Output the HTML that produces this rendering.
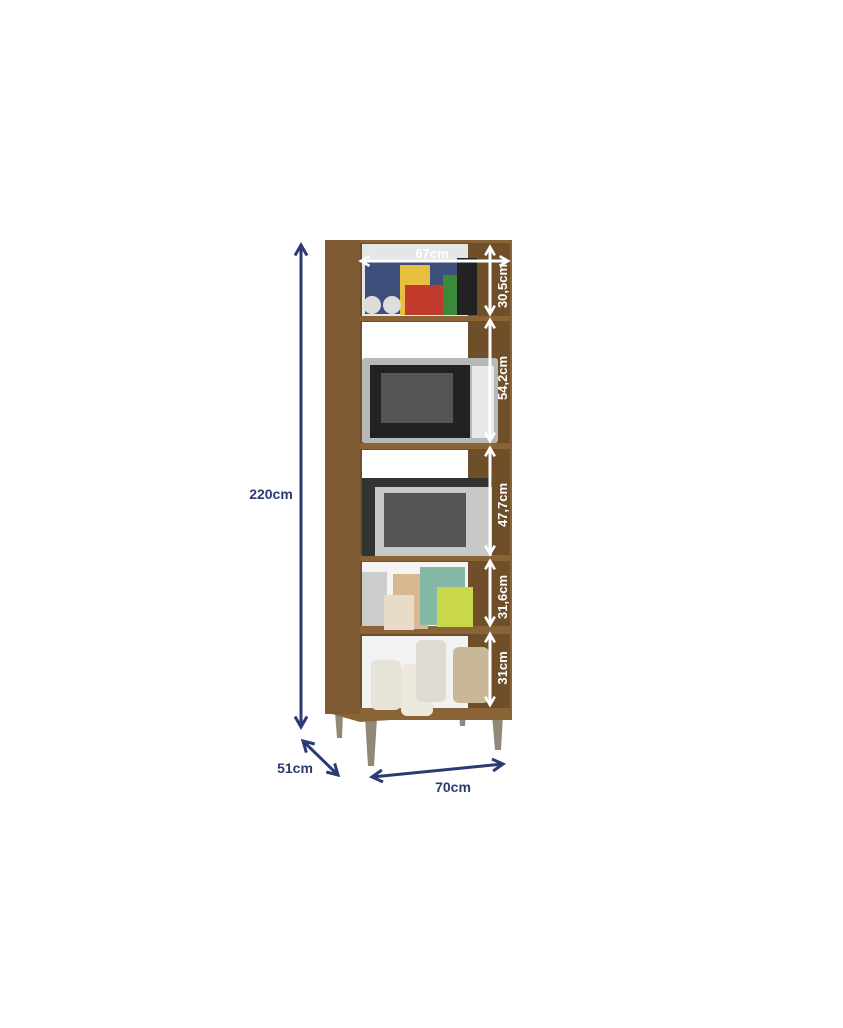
<!DOCTYPE html>
<html><head><style>
html,body{margin:0;padding:0;background:#fff;}
svg{display:block}
text{font-family:"Liberation Sans",sans-serif;font-weight:bold}
</style></head><body>
<svg width="843" height="1028" viewBox="0 0 843 1028" xmlns="http://www.w3.org/2000/svg">
<defs>
<marker id="bh" viewBox="0 0 10 10" refX="8" refY="5" markerWidth="5" markerHeight="5" orient="auto-start-reverse"><path d="M1,1 L8,5 L1,9" fill="none" stroke="#2b3a73" stroke-width="2"/></marker>
<marker id="wh" viewBox="0 0 10 10" refX="8" refY="5" markerWidth="4" markerHeight="4" orient="auto-start-reverse"><path d="M1,1 L8,5 L1,9" fill="none" stroke="#fff" stroke-width="2.2"/></marker>
</defs>
<!-- legs -->
<g fill="#8f8a78">
<polygon points="335,712 343,712 342,738 337,738"/>
<polygon points="459,712 466,712 465,726 460,726"/>
<polygon points="365,718 377,718 374,766 368,766"/>
<polygon points="492,715 503,715 501,750 495,750"/>
</g>
<!-- cabinet body -->
<polygon points="325,240 512,240 512,712 360,722 325,712" fill="#8a6437"/>
<rect x="325" y="240" width="35" height="474" fill="#7d5a31"/>
<rect x="360" y="243" width="150" height="470" fill="#6f4f2a"/>
<!-- white back areas -->
<rect x="362" y="244" width="106" height="72" fill="#e6e6e6"/>
<rect x="362" y="322" width="106" height="120" fill="#fff"/>
<rect x="362" y="450" width="106" height="105" fill="#fff"/>
<rect x="362" y="562" width="106" height="65" fill="#f4f4f4"/>
<rect x="362" y="636" width="106" height="72" fill="#f2f2f2"/>
<!-- shelves -->
<g fill="#8a6437">
<rect x="360" y="316" width="152" height="5"/>
<rect x="360" y="443" width="152" height="6"/>
<rect x="360" y="555" width="152" height="6"/>
<rect x="360" y="626" width="152" height="8"/>
<rect x="360" y="708" width="152" height="12"/>
</g>
<!-- top shelf items -->
<rect x="365" y="262" width="100" height="52" fill="#3d4f7a"/>
<rect x="400" y="265" width="30" height="50" fill="#e8c040"/>
<rect x="405" y="285" width="40" height="30" fill="#c23a2c"/>
<rect x="443" y="275" width="15" height="40" fill="#3a8a3a"/>
<rect x="457" y="258" width="20" height="57" fill="#222"/>
<circle cx="372" cy="305" r="9" fill="#ddd"/><circle cx="392" cy="305" r="9" fill="#ddd"/>
<!-- microwave 1 -->
<rect x="362" y="358" width="136" height="85" rx="3" fill="#b8b8b8"/>
<rect x="370" y="365" width="100" height="73" fill="#222"/>
<rect x="381" y="373" width="72" height="50" fill="#555"/>
<rect x="472" y="366" width="22" height="72" fill="#e8e8e8"/>
<!-- microwave 2 -->
<rect x="362" y="478" width="130" height="78" fill="#333"/>
<rect x="375" y="487" width="117" height="69" fill="#c8c8c8"/>
<rect x="384" y="493" width="82" height="54" fill="#555"/>
<!-- 4th shelf items -->
<rect x="362" y="572" width="25" height="54" fill="#ccc"/>
<rect x="393" y="574" width="35" height="55" fill="#d8b890"/>
<rect x="420" y="567" width="45" height="58" fill="#86b8a8"/>
<rect x="437" y="587" width="36" height="40" fill="#c8d84a"/>
<rect x="384" y="595" width="30" height="35" fill="#e8dcc8"/>
<!-- jars -->
<rect x="371" y="660" width="30" height="50" rx="6" fill="#e6e3d8"/>
<rect x="401" y="664" width="32" height="52" rx="6" fill="#ece8dc"/>
<rect x="416" y="640" width="30" height="62" rx="6" fill="#dedcd2"/>
<rect x="453" y="647" width="36" height="56" rx="6" fill="#c8b898"/>
<!-- white dimension arrows -->
<g stroke="#fff" stroke-width="3" fill="none">
<line x1="361" y1="261" x2="508" y2="261" marker-start="url(#wh)" marker-end="url(#wh)"/>
<line x1="490" y1="247" x2="490" y2="314" marker-start="url(#wh)" marker-end="url(#wh)"/>
<line x1="490" y1="320" x2="490" y2="441" marker-start="url(#wh)" marker-end="url(#wh)"/>
<line x1="490" y1="448" x2="490" y2="554" marker-start="url(#wh)" marker-end="url(#wh)"/>
<line x1="490" y1="561" x2="490" y2="625" marker-start="url(#wh)" marker-end="url(#wh)"/>
<line x1="490" y1="634" x2="490" y2="705" marker-start="url(#wh)" marker-end="url(#wh)"/>
</g>
<g fill="#fff" font-size="13">
<text x="432" y="258" text-anchor="middle">67cm</text>
<text transform="translate(507,286) rotate(-90)" text-anchor="middle">30,5cm</text>
<text transform="translate(507,378) rotate(-90)" text-anchor="middle">54,2cm</text>
<text transform="translate(507,505) rotate(-90)" text-anchor="middle">47,7cm</text>
<text transform="translate(507,597) rotate(-90)" text-anchor="middle">31,6cm</text>
<text transform="translate(507,668) rotate(-90)" text-anchor="middle">31cm</text>
</g>
<!-- blue dimension arrows -->
<g stroke="#2b3a73" stroke-width="3" fill="none">
<line x1="301" y1="245" x2="301" y2="727" marker-start="url(#bh)" marker-end="url(#bh)"/>
<line x1="303" y1="741" x2="338" y2="775" marker-start="url(#bh)" marker-end="url(#bh)"/>
<line x1="372" y1="777" x2="503" y2="764" marker-start="url(#bh)" marker-end="url(#bh)"/>
</g>
<g fill="#2b3a73" font-size="14">
<text x="271" y="499" text-anchor="middle">220cm</text>
<text x="295" y="773" text-anchor="middle">51cm</text>
<text x="453" y="792" text-anchor="middle">70cm</text>
</g>
</svg>
</body></html>
